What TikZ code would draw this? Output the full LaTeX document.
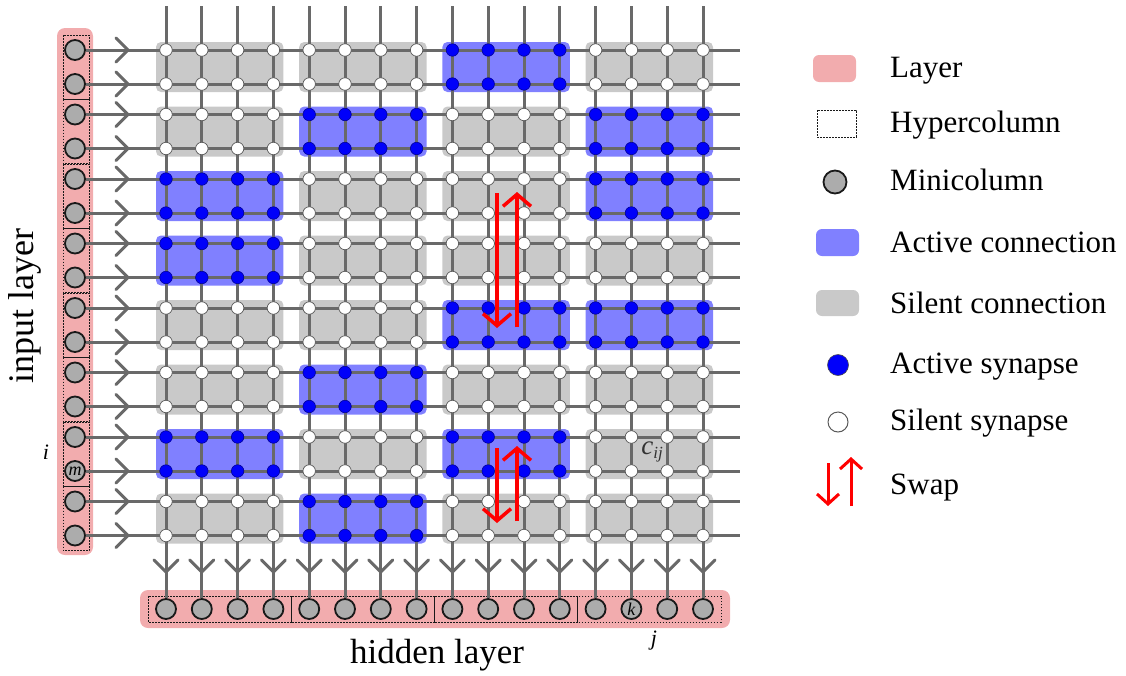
\documentclass[tikz,border=0pt]{standalone}
\usepackage{fontspec}
\setmainfont{Liberation Serif}
\usetikzlibrary{arrows.meta}
\definecolor{pinkL}{RGB}{242,172,174}
\definecolor{blueB}{RGB}{128,128,255}
\definecolor{grayB}{RGB}{201,201,201}
\definecolor{lineG}{RGB}{105,105,105}
\definecolor{miniG}{RGB}{172,172,172}
\definecolor{synB}{RGB}{0,0,250}
% active (input hypercolumn - hidden hypercolumn) blocks
\expandafter\def\csname act0-2\endcsname{}
\expandafter\def\csname act1-1\endcsname{}
\expandafter\def\csname act1-3\endcsname{}
\expandafter\def\csname act2-0\endcsname{}
\expandafter\def\csname act2-3\endcsname{}
\expandafter\def\csname act3-0\endcsname{}
\expandafter\def\csname act4-2\endcsname{}
\expandafter\def\csname act4-3\endcsname{}
\expandafter\def\csname act5-1\endcsname{}
\expandafter\def\csname act6-0\endcsname{}
\expandafter\def\csname act6-2\endcsname{}
\expandafter\def\csname act7-1\endcsname{}
\begin{document}
\begin{tikzpicture}[x=1pt,y=-1pt,
  layerbox/.style={fill=pinkL,draw=none,rounded corners=8pt},
  hyperbox/.style={draw=black!90,line width=1pt,dash pattern=on 1.8pt off 1.2pt},
  actblk/.style={fill=blueB,draw=none,rounded corners=5pt},
  silblk/.style={fill=grayB,draw=none,rounded corners=5pt},
  gline/.style={draw=lineG,line width=3pt},
  chev/.style={draw=lineG,line width=3pt,line join=round,line cap=round},
  mini/.style={circle,fill=miniG,draw=black!90,line width=1.8pt,minimum size=20pt,inner sep=0pt},
  actsyn/.style={circle,fill=synB,draw=blue!60!black,line width=0.6pt,minimum size=12.5pt,inner sep=0pt},
  silsyn/.style={circle,fill=white,draw=black!65,line width=0.7pt,minimum size=12.5pt,inner sep=0pt},
  swaparrow/.style={draw=red,line width=3.5pt,-{Straight Barb[length=12pt,width=28pt]}},
  legtext/.style={anchor=base west,font=\fontsize{31}{34}\selectfont,inner sep=0pt},
  bigtext/.style={font=\fontsize{36}{40}\selectfont,inner sep=0pt}]
\useasboundingbox (0,0) rectangle (1126,675);

% layers
\draw[layerbox] (57,28) rectangle (93,555);
\draw[layerbox] (140,590) rectangle (730,628);

% input hypercolumn boxes
\foreach \pp in {0,...,7}{
  \pgfmathsetmacro\ytop{50+64.5*\pp-15}
  \pgfmathsetmacro\ybot{50+64.5*\pp+34+15}
  \draw[hyperbox] (63,\ytop) rectangle (89,\ybot);
}
% hidden hypercolumn boxes
\foreach \hh in {0,...,3}{
  \pgfmathsetmacro\xl{166+35.8*4*\hh-18}
  \pgfmathsetmacro\xr{166+35.8*(4*\hh+3)+18}
  \draw[hyperbox] (\xl,596) rectangle (\xr,622);
}

% connection blocks
\foreach \pp in {0,...,7}{
  \foreach \hh in {0,...,3}{
    \pgfmathsetmacro\xl{166+35.8*4*\hh-10}
    \pgfmathsetmacro\xr{166+35.8*(4*\hh+3)+10}
    \pgfmathsetmacro\ytop{50+64.5*\pp-8}
    \pgfmathsetmacro\ybot{50+64.5*\pp+34+8}
    \edef\bst{\ifcsname act\pp-\hh\endcsname actblk\else silblk\fi}
    \draw[\bst] (\xl,\ytop) rectangle (\xr,\ybot);
  }
}

% minicolumn nodes
\foreach \r in {0,...,15}{
  \pgfmathsetmacro\ry{50+64.5*int(\r/2)+34*mod(\r,2)}
  \ifnum\r=13
    \node[mini,font=\fontsize{18}{18}\selectfont\itshape] (in\r) at (75,\ry) {m};
  \else
    \node[mini] (in\r) at (75,\ry) {};
  \fi
  \coordinate (re\r) at (740,\ry);
}
\foreach \c in {0,...,15}{
  \pgfmathsetmacro\cx{166+35.8*\c}
  \ifnum\c=13
    \node[mini,font=\fontsize{18}{18}\selectfont\itshape] (h\c) at (\cx,609) {k};
  \else
    \node[mini] (h\c) at (\cx,609) {};
  \fi
  \coordinate (vt\c) at (\cx,6);
}

% lines
\foreach \r in {0,...,15}{
  \pgfmathsetmacro\ry{50+64.5*int(\r/2)+34*mod(\r,2)}
  \draw[gline] (in\r) -- (re\r);
  \draw[chev] (116,\ry-12) -- (128,\ry) -- (116,\ry+12);
}
\foreach \c in {0,...,15}{
  \pgfmathsetmacro\cx{166+35.8*\c}
  \draw[gline] (vt\c) -- (h\c);
  \draw[chev] (\cx-12,560) -- (\cx,572) -- (\cx+12,560);
}

% synapses
\foreach \r in {0,...,15}{
  \foreach \c in {0,...,15}{
    \pgfmathsetmacro\ry{50+64.5*int(\r/2)+34*mod(\r,2)}
    \pgfmathsetmacro\cx{166+35.8*\c}
    \pgfmathtruncatemacro\pp{\r/2}
    \pgfmathtruncatemacro\hh{\c/4}
    \edef\sst{\ifcsname act\pp-\hh\endcsname actsyn\else silsyn\fi}
    \node[\sst] (s-\r-\c) at (\cx,\ry) {};
  }
}

% swaps
\coordinate (sa1) at (497,193); \coordinate (sb1) at (497,328);
\coordinate (sc1) at (517,327); \coordinate (sd1) at (517,192);
\draw[swaparrow] (sa1) -- (sb1);
\draw[swaparrow] (sc1) -- (sd1);
\coordinate (sa2) at (497,448); \coordinate (sb2) at (497,523);
\coordinate (sc2) at (517,521); \coordinate (sd2) at (517,446);
\draw[swaparrow] (sa2) -- (sb2);
\draw[swaparrow] (sc2) -- (sd2);

% labels
\node[bigtext,rotate=90] (lin) at (25,306) {input layer};
\node[bigtext,font=\fontsize{35}{40}\selectfont] (lhid) at (437,655) {hidden layer};
\node[font=\fontsize{22}{22}\selectfont\itshape] (li) at (46,452) {i};
\node[font=\fontsize{22}{22}\selectfont\itshape] (lj) at (654,641) {j};
\node[text=black!80,font=\fontsize{27}{27}\selectfont] (lc) at (652,452) {\textit{c}\raisebox{-0.35ex}{\fontsize{17}{17}\selectfont\textit{ij}}};

% legend
\draw[layerbox,rounded corners=6pt] (813,55) rectangle (856,82);
\draw[hyperbox] (817,110) rectangle (856,137);
\node[mini,minimum size=23pt] (lgmini) at (835,182) {};
\draw[actblk,rounded corners=6pt] (816,229) rectangle (859,256);
\draw[silblk,rounded corners=6pt] (816,290) rectangle (859,316);
\node[actsyn,minimum size=21pt,draw=black!70] (lgact) at (838,365) {};
\node[silsyn,minimum size=20pt,line width=1pt] (lgsil) at (838,422) {};
\coordinate (lsa) at (828,463); \coordinate (lsb) at (828,506);
\coordinate (lsc) at (851,506); \coordinate (lsd) at (851,457);
\draw[swaparrow,line width=3pt,-{Straight Barb[length=10pt,width=22pt]}] (lsa) -- (lsb);
\draw[swaparrow,line width=3pt,-{Straight Barb[length=10pt,width=22pt]}] (lsc) -- (lsd);

\node[legtext] (t1) at (890,77) {Layer};
\node[legtext] (t2) at (890,132) {Hypercolumn};
\node[legtext] (t3) at (890,190) {Minicolumn};
\node[legtext] (t4) at (890,252) {Active connection};
\node[legtext] (t5) at (890,313) {Silent connection};
\node[legtext] (t6) at (890,373) {Active synapse};
\node[legtext] (t7) at (890,430) {Silent synapse};
\node[legtext] (t8) at (890,494) {Swap};
\end{tikzpicture}
\end{document}
